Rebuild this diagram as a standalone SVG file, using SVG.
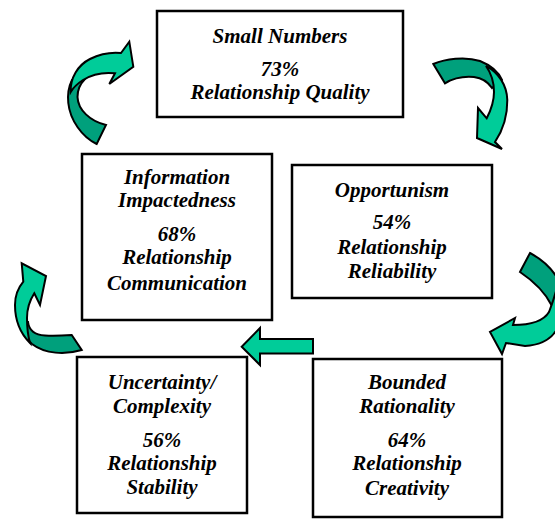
<svg xmlns="http://www.w3.org/2000/svg" width="555" height="519" viewBox="0 0 555 519">
<style>
.box{fill:#fff;stroke:#000;stroke-width:2.5}
text{font-family:'Liberation Serif','DejaVu Serif',serif;font-weight:700;font-style:italic;font-size:21px;text-anchor:middle;fill:#000}
.ar{stroke:#000;stroke-width:2;stroke-linejoin:miter}
.back{fill:#00A07C}
.front{fill:#00CC99}
</style>
<rect width="555" height="519" fill="#fff"/>
<g id="connectors">
  <g id="arrow1">
    <path class="ar back" d="M96.7,144 C82,137 70,120 68.3,103 C67.5,95 69,86 72,80 L85,79 C80,84 77.5,90 77.5,97 C78,110 90,121 106,125 Z"/>
    <path class="ar front" d="M70.7,92 C70,78 78,65 90,59 C100,54 111,52 121,53 L129.3,41.7 L133.3,66.7 L109.3,84 L115,73.3 C103,72 91,75 83,80 C77,84 73,88 70.7,92 Z"/>
  </g>
  <g id="arrow2">
    <path class="ar back" d="M433.3,64 C445,59 465,56 480,61 C490,65 498,71 502,80 L492,88 C488,82 482,78 474,77 C463,76 452,79 445,83.3 Z"/>
    <path class="ar front" d="M486,66 C498,72 507,85 507.3,100 C507.5,115 503,130 495,142 L502,149 L477,138 L478,108 L486.7,118.3 C491,110 494,100 494,92 C494,82 491,73 486,66 Z"/>
  </g>
  <g id="arrow3">
    <path class="ar back" d="M530,253 C545,261 556,272 562,288 L552,306 C546,294 535,282 520,272 Z"/>
    <path class="ar front" d="M558,283 C563,295 564,312 558,327 C552,340 540,345 525,346 L506,343 L502,354 L490,332 L515,318 L513,325 C528,325 543,322 549,312 C553,302 556,292 558,283 Z"/>
  </g>
  <g id="arrow4">
    <path class="ar back" d="M81.7,350 C65,355 45,354 32,344 C25,338 22,330 22,322 L28,322 C29,330 35,335 45,335.5 C55,336 64,335.5 71.7,335 Z"/>
    <path class="ar front" d="M30,343 C20,333 15,320 15,305 C15,296 18,288 23.3,281.7 L21.7,263.3 L46,276 L40,305 L34.3,293.3 C30,300 27,310 27,318 C27,328 28,336 30,343 Z"/>
  </g>
  <g id="arrow5">
    <path class="ar front" d="M313,339 L260,339 L260,328 L241.7,346.7 L260,365 L260,353.5 L313,353.5 Z"/>
  </g>
</g>
<g id="node-small-numbers">
  <rect class="box" x="157" y="11" width="246" height="106"/>
  <text x="280" y="43">Small Numbers</text>
  <text x="280" y="76">73%</text>
  <text x="280" y="99">Relationship Quality</text>
</g>
<g id="node-information">
  <rect class="box" x="82" y="154" width="190" height="166"/>
  <text x="177" y="184">Information</text>
  <text x="177" y="207">Impactedness</text>
  <text x="177" y="241">68%</text>
  <text x="177" y="264">Relationship</text>
  <text x="177" y="290">Communication</text>
</g>
<g id="node-opportunism">
  <rect class="box" x="292" y="165" width="200" height="133"/>
  <text x="392" y="197">Opportunism</text>
  <text x="392" y="229">54%</text>
  <text x="392" y="254">Relationship</text>
  <text x="392" y="278">Reliability</text>
</g>
<g id="node-uncertainty">
  <rect class="box" x="77" y="357" width="170" height="156"/>
  <text x="162" y="389">Uncertainty/</text>
  <text x="162" y="413">Complexity</text>
  <text x="162" y="447">56%</text>
  <text x="162" y="470">Relationship</text>
  <text x="162" y="494">Stability</text>
</g>
<g id="node-bounded">
  <rect class="box" x="313" y="359" width="189" height="158"/>
  <text x="407" y="389">Bounded</text>
  <text x="407" y="413">Rationality</text>
  <text x="407" y="447">64%</text>
  <text x="407" y="470">Relationship</text>
  <text x="407" y="495">Creativity</text>
</g>
</svg>
